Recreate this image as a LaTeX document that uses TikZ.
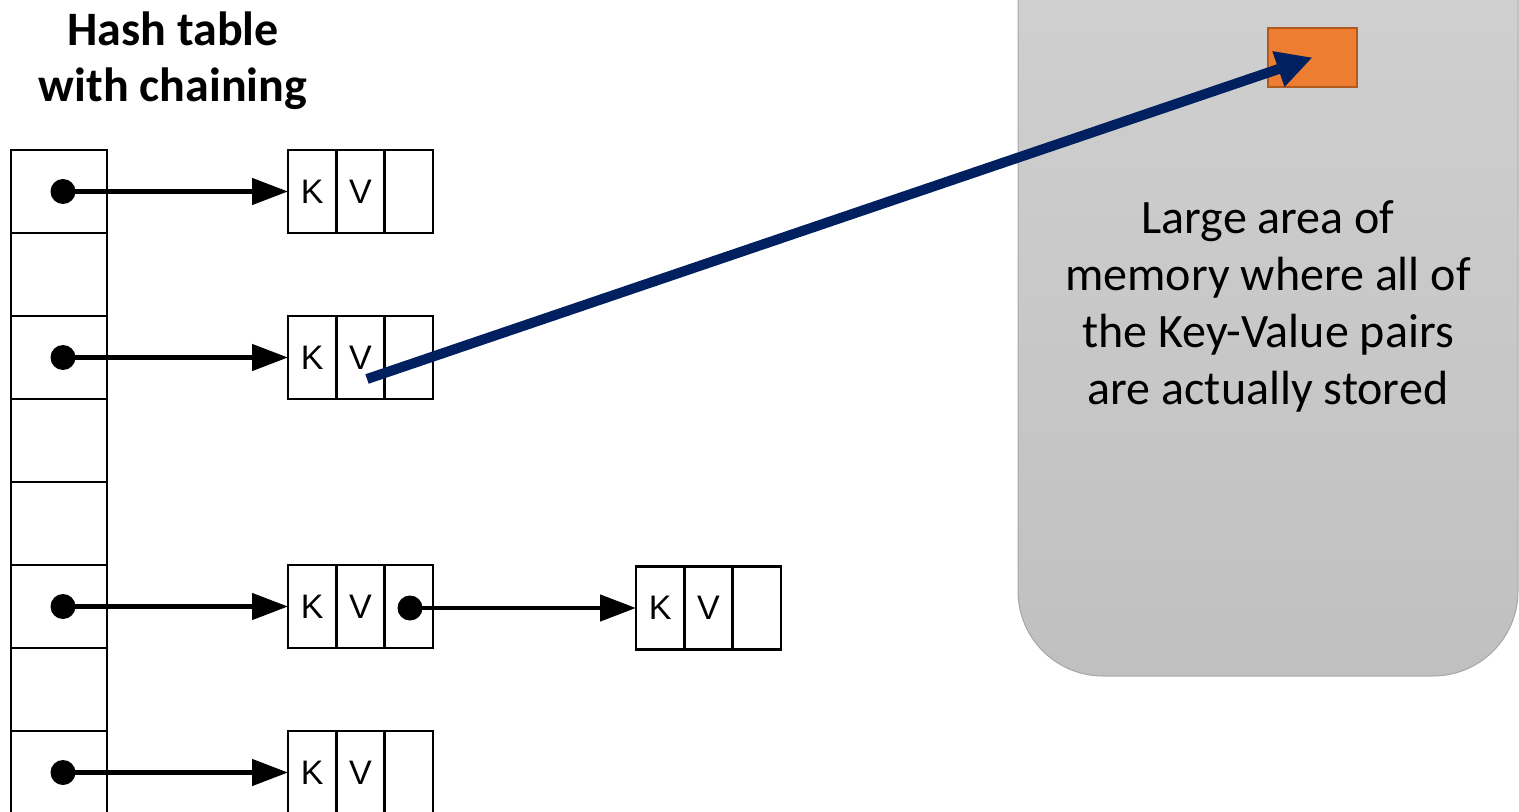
\documentclass[tikz,border=0pt]{standalone}
\usepackage{fontspec}
\setmainfont{Carlito}
\newfontfamily\cellfont{Liberation Sans}
\usetikzlibrary{arrows.meta}

\definecolor{ptrnavy}{HTML}{002060}
\definecolor{blockfill}{HTML}{ED7D31}
\definecolor{blockedge}{HTML}{B05A1E}
\definecolor{memtop}{HTML}{D2D2D2}
\definecolor{membot}{HTML}{C0C0C0}
\definecolor{memedge}{HTML}{A6A6A6}

% one key/value record: #1 name prefix, #2 centre of its key cell
\newcommand\kvrecord[2]{%
  \node[kvcell] (#1-k) at (#2) {K};
  \node[kvcell, anchor=west] (#1-v) at (#1-k.east) {V};
  \node[kvcell, anchor=west] (#1-n) at (#1-v.east) {};
}

\begin{document}
\begin{tikzpicture}[x=0.5pt, y=-0.5pt,
  bucket/.style={draw, line width=1.25pt, minimum width=48pt, minimum height=41.5pt,
                 inner sep=0pt, outer sep=0pt},
  kvcell/.style={draw, line width=1.25pt, minimum width=24.15pt, minimum height=41.5pt,
                 inner sep=0pt, outer sep=0pt, font=\cellfont\fontsize{17}{19}\selectfont},
  dot/.style={circle, fill=black, inner sep=0pt, minimum size=12.5pt},
  ptr/.style={line width=2.3pt, -{Triangle[length=18pt, width=13pt]}},
  memarea/.style={draw=memedge, line width=0.5pt, rounded corners=42.5pt,
                  top color=memtop, bottom color=membot,
                  minimum width=250pt, minimum height=398pt, inner sep=0pt},
  block/.style={draw=blockedge, line width=1pt, fill=blockfill,
                minimum width=44.5pt, minimum height=29.5pt, inner sep=0pt},
  bigptr/.style={draw=ptrnavy, line width=5pt,
                 -{Triangle[length=18pt, width=17.5pt, fill=ptrnavy]}},
  heading/.style={font=\bfseries\fontsize{24}{28}\selectfont, align=center, inner sep=0pt},
  note/.style={font=\fontsize{24}{28.5}\selectfont, align=center, inner sep=0pt}]

\useasboundingbox (0,0) rectangle (1519,812);
\clip (0,0) rectangle (1519,812);

% memory region with the stored record
\node[memarea] (mem) at (1268,278) {};
\node[note] (memtext) at (1268,306)
  {Large area of\\memory where all of\\the Key-Value pairs\\are actually stored};
\node[block] (blk) at (1312.5,57.5) {};

% title
\node[heading] (title) at (173,61) {Hash table\\with chaining};

% bucket array
\foreach \i in {1,...,8}
  \node[bucket] (h\i) at (59,{191.5+83*(\i-1)}) {};

% chained key/value records
\kvrecord{a}{312.15,191.5}
\kvrecord{b}{312.15,357.5}
\kvrecord{c}{312.15,606.5}
\kvrecord{d}{312.15,772.5}
\kvrecord{e}{660.15,608}

% pointers out of the buckets
\foreach \r/\y in {a/191.5, b/357.5, c/606.5, d/772.5} {
  \node[dot] (p\r) at (63,\y) {};
  \draw[ptr] (p\r.center) -- (\r-k.west);
}

% next pointer from the third chain
\node[dot] (pn) at (410,608) {};
\draw[ptr] (pn.center) -- (e-k.west);

% value lives in the memory region
\coordinate (vsrc) at (367,379);
\draw[bigptr] (vsrc) -- (blk.center);
\end{tikzpicture}
\end{document}
